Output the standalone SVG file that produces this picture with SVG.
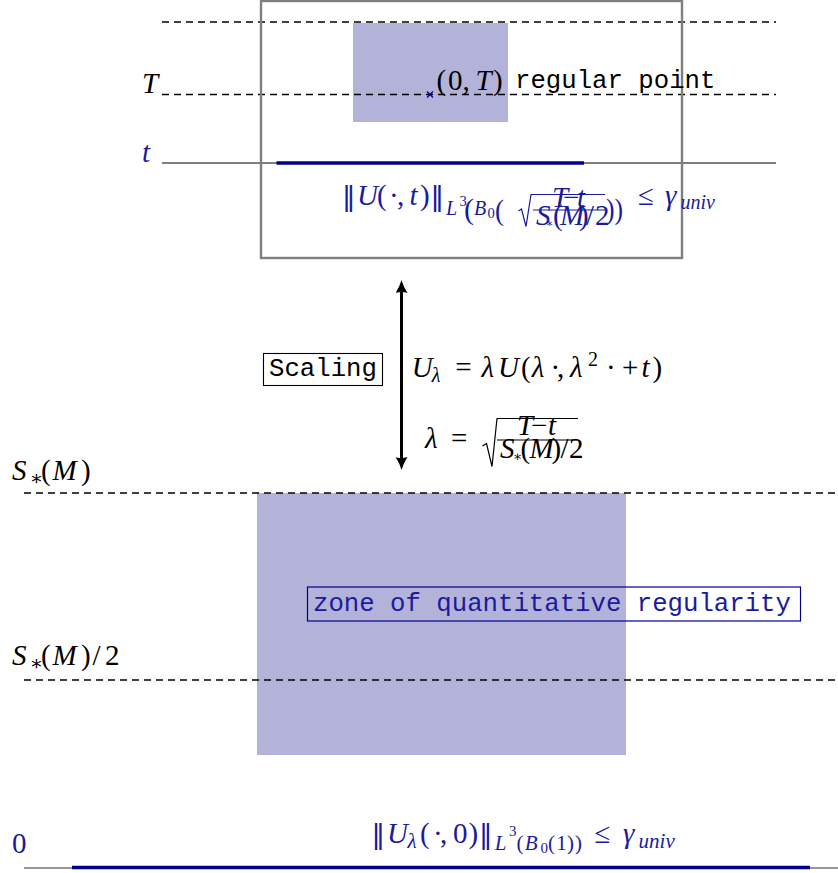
<svg xmlns="http://www.w3.org/2000/svg" width="838" height="873" viewBox="0 0 838 873">
<style>
.m{font-family:"Liberation Serif","DejaVu Serif",serif;font-size:29px;fill:#000}
.i{font-style:italic}
.n{font-family:"DejaVu Sans",sans-serif;font-size:27px}
.tt{font-family:"Liberation Mono","DejaVu Sans Mono",monospace;font-size:25.7px;fill:#000}
.b{fill:#1a1a9e}
.dash{stroke:#000;stroke-width:1.4;stroke-dasharray:7 5;fill:none}
.thin{stroke:#000;stroke-width:1.1;fill:none}
.navy{stroke:#00008b;stroke-width:3.6;fill:none}
.rule{stroke:#1a1a9e;stroke-width:1.1;fill:none}
.rad{stroke-width:1.2;fill:none;stroke-linejoin:miter}
.zone{fill:#b3b3d9}
</style>
<defs>
<marker id="ah" viewBox="0 0 13 12" refX="5" refY="6" markerWidth="13" markerHeight="12" markerUnits="userSpaceOnUse" orient="auto-start-reverse"><path d="M0,0 Q6,4 13,6 Q6,8 0,12 Q2,6 0,0Z" fill="#000"/></marker>
</defs>
<rect width="838" height="873" fill="#fff"/>

<g id="zones">
<rect class="zone" x="353" y="23" width="155" height="99"/>
<rect class="zone" x="257" y="493" width="369" height="262"/>
</g>

<g id="connectors">
<line class="dash" x1="162" y1="22" x2="776" y2="22"/>
<line class="dash" x1="162" y1="94.5" x2="776" y2="94.5"/>
<line class="thin" x1="162" y1="163" x2="776" y2="163"/>
<line class="navy" x1="276.5" y1="163" x2="584" y2="163"/>
<line class="dash" x1="24" y1="493" x2="838" y2="493"/>
<line class="dash" x1="24" y1="680" x2="838" y2="680"/>
<line stroke="#333" stroke-width="1.2" x1="24" y1="868" x2="838" y2="868"/>
<line class="navy" x1="72" y1="867.5" x2="810" y2="867.5"/>
<line stroke="#000" stroke-width="3" x1="401.5" y1="288" x2="401.5" y2="462" marker-start="url(#ah)" marker-end="url(#ah)"/>
</g>

<g id="top-box">
<rect x="261" y="1" width="421" height="257" fill="none" stroke="#7f7f7f" stroke-width="2.4"/>
</g>

<g id="label-T"><text class="m i" x="142" y="92.5">T</text></g>
<g id="label-t"><text class="m i b" x="142" y="162">t</text></g>

<g id="regular-point">
<path d="M427,91.5 L433,97.5 M433,91.5 L427,97.5" stroke="#00008b" stroke-width="1.3" fill="none"/>
<text class="m"><tspan x="436.5" y="90">(</tspan><tspan x="448" y="90">0</tspan><tspan x="462.5" y="90">,</tspan><tspan x="475.5" y="90" class="i">T</tspan><tspan x="493" y="90">)</tspan></text>
<text class="tt" x="515" y="88">regular point</text>
</g>

<g id="norm-top">
<text class="m b"><tspan x="342" y="205" class="n">‖</tspan><tspan x="357.1" y="205" class="i">U</tspan><tspan x="377" y="205">(</tspan><tspan x="389" y="205">·</tspan><tspan x="397" y="205">,</tspan><tspan x="409.5" y="205" class="i">t</tspan><tspan x="420" y="205">)</tspan><tspan x="430.5" y="205" class="n">‖</tspan><tspan x="446" y="215" class="i" font-size="20">L</tspan><tspan x="459.5" y="206" font-size="14.5">3</tspan><tspan x="464" y="219" font-size="30">(</tspan><tspan x="474" y="215" class="i" font-size="20">B</tspan><tspan x="487.5" y="218" font-size="14.5">0</tspan></text>
<text class="m b" x="495" y="219.5" font-size="38" textLength="9" lengthAdjust="spacingAndGlyphs">(</text>
<path class="rad" stroke="#1a1a9e" d="M518.5,211 L521.5,209 L526,226.5 L531,194.5 L605,194.5"/>
<line class="rule" x1="533" y1="210" x2="605" y2="210"/>
<text class="m b" font-size="13.5"><tspan x="552" y="206.5" class="i">T</tspan><tspan x="563" y="206.5">−</tspan><tspan x="577" y="206.5" class="i">t</tspan></text>
<text class="m b" font-size="14.5"><tspan x="536" y="224.5" class="i">S</tspan><tspan x="546" y="227" font-size="11">∗</tspan><tspan x="553" y="224.5">(</tspan><tspan x="560" y="224.5" class="i">M</tspan><tspan x="579" y="224.5">)</tspan><tspan x="586" y="224.5">/</tspan><tspan x="595" y="224.5">2</tspan></text>
<text class="m b" x="606" y="218.6" font-size="42" textLength="17" lengthAdjust="spacingAndGlyphs">))</text>
<text class="m b"><tspan x="638" y="205">≤</tspan><tspan x="665" y="205" class="i">γ</tspan><tspan x="680.5" y="209" class="i" font-size="20">univ</tspan></text>
</g>

<g id="scaling">
<rect x="263.5" y="353.5" width="119" height="32" fill="none" stroke="#000" stroke-width="1.1"/>
<text class="tt" x="269" y="376">Scaling</text>
</g>

<g id="formula-U">
<text class="m"><tspan x="411.7" y="377" class="i">U</tspan><tspan x="431.8" y="382" class="i" font-size="20">λ</tspan><tspan x="455.3" y="377">=</tspan><tspan x="481.5" y="377" class="i">λ</tspan><tspan x="498" y="377" class="i">U</tspan><tspan x="521" y="377">(</tspan><tspan x="531.7" y="377" class="i">λ</tspan><tspan x="550.5" y="377">·</tspan><tspan x="557" y="377">,</tspan><tspan x="570.1" y="377" class="i">λ</tspan><tspan x="588" y="366" font-size="20">2</tspan><tspan x="606" y="377">·</tspan><tspan x="622" y="377">+</tspan><tspan x="641.6" y="377" class="i">t</tspan><tspan x="652.5" y="377">)</tspan></text>
</g>

<g id="formula-lambda">
<text class="m"><tspan x="425" y="448" class="i">λ</tspan><tspan x="451" y="448">=</tspan></text>
<path class="rad" stroke="#000" d="M482.5,446 L486.5,443.5 L492,466.5 L497,418.5 L578,418.5"/>
<line class="thin" x1="497" y1="440" x2="577" y2="440"/>
<text class="m" font-size="18.5"><tspan x="517" y="434.5" class="i">T</tspan><tspan x="531" y="434.5">−</tspan><tspan x="548" y="434.5" class="i">t</tspan></text>
<text class="m" font-size="20"><tspan x="500" y="457.5" class="i">S</tspan><tspan x="513" y="460.5" font-size="14">∗</tspan><tspan x="520.5" y="457.5">(</tspan><tspan x="529.5" y="457.5" class="i">M</tspan><tspan x="551.5" y="457.5">)</tspan><tspan x="560.5" y="457.5">/</tspan><tspan x="569" y="457.5">2</tspan></text>
</g>

<g id="label-SM">
<text class="m"><tspan x="12" y="480" class="i">S</tspan><tspan x="29.8" y="485" font-size="20">∗</tspan><tspan x="41" y="480">(</tspan><tspan x="52.5" y="480" class="i">M</tspan><tspan x="81" y="480">)</tspan></text>
</g>

<g id="zone-label">
<rect x="307.5" y="587" width="493" height="34" fill="none" stroke="#00008b" stroke-width="1.2"/>
<text class="tt b" x="313" y="611">zone of quantitative regularity</text>
</g>

<g id="label-SM2">
<text class="m"><tspan x="12" y="665" class="i">S</tspan><tspan x="29.8" y="670" font-size="20">∗</tspan><tspan x="41" y="665">(</tspan><tspan x="52.5" y="665" class="i">M</tspan><tspan x="81" y="665">)</tspan><tspan x="92.5" y="665">/</tspan><tspan x="105" y="665">2</tspan></text>
</g>

<g id="label-0"><text class="m b" x="12" y="853">0</text></g>

<g id="norm-bottom">
<text class="m b" font-size="30"><tspan x="371.5" y="843" class="n" font-size="28">‖</tspan><tspan x="387" y="843" class="i">U</tspan><tspan x="407.5" y="848" class="i" font-size="21">λ</tspan><tspan x="420" y="843">(</tspan><tspan x="433" y="843">·</tspan><tspan x="440" y="843">,</tspan><tspan x="453" y="843">0</tspan><tspan x="468.5" y="843">)</tspan><tspan x="479" y="843" class="n" font-size="28">‖</tspan><tspan x="494.7" y="850" class="i" font-size="21">L</tspan><tspan x="509" y="836" font-size="15">3</tspan><tspan x="516.5" y="850" font-size="21">(</tspan><tspan x="524.7" y="850" class="i" font-size="21">B</tspan><tspan x="540.6" y="853" font-size="15">0</tspan><tspan x="548.1" y="850" font-size="21">(</tspan><tspan x="556.3" y="850" font-size="21">1</tspan><tspan x="567" y="850" font-size="21">)</tspan><tspan x="575" y="850" font-size="21">)</tspan><tspan x="594.5" y="843">≤</tspan><tspan x="623" y="843" class="i">γ</tspan><tspan x="638.6" y="848" class="i" font-size="21">univ</tspan></text>
</g>
</svg>
